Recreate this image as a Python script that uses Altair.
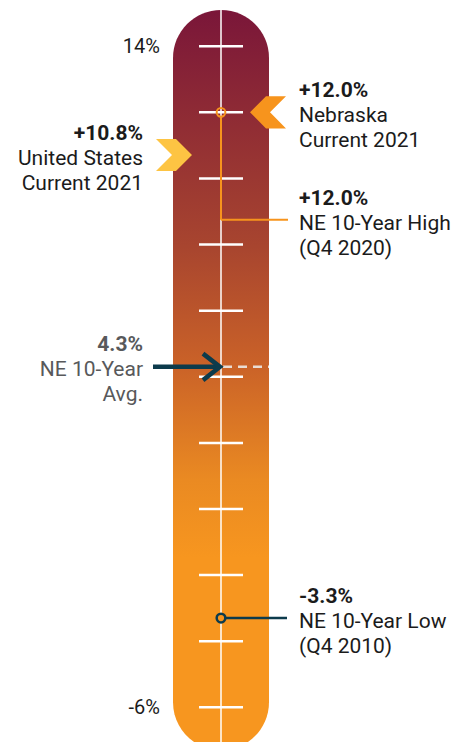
import altair as alt
import pandas as pd

# ---------------- data ----------------
tick_values = [-6, -4, -2, 0, 2, 4, 6, 8, 10, 12, 14]
end_label_values = [14, -6]
end_label_texts = ["14%", "-6%"]

ne_current_value = 12.0
us_current_value = 10.8
ne_high_value = 12.0
ne_avg_value = 4.3
ne_low_value = -3.3

ne_current_lines = ["+12.0%", "Nebraska", "Current 2021"]
us_current_lines = ["+10.8%", "United States", "Current 2021"]
ne_high_lines = ["+12.0%", "NE 10-Year High", "(Q4 2020)"]
ne_avg_lines = ["4.3%", "NE 10-Year", "Avg."]
ne_low_lines = ["-3.3%", "NE 10-Year Low", "(Q4 2010)"]

# ---------------- layout / style ----------------
W, H = 454, 742
Y_DOMAIN = [-7.05, 15.4]
BAR_TOP, BAR_BOTTOM = 15.1, -7.3
HIGH_LABEL_LEVEL = 8.75
FONT = "Roboto"
FS = 21
LINE_DY = [-21, 4, 29]
TEXT = "#1b1b1b"
GRAY = "#58595b"
ORANGE = "#f7941d"
YELLOW = "#fdc443"
NAVY = "#0c3b4c"

yscale = alt.Scale(domain=Y_DOMAIN, nice=False, zero=False)


def Y(field):
    return alt.Y(f"{field}:Q", scale=yscale, axis=None)


def one(value):
    return pd.DataFrame({"v": [value]})


gradient = alt.Gradient(
    gradient="linear",
    stops=[
        alt.GradientStop(color="#7a1639", offset=0),
        alt.GradientStop(color="#a8452f", offset=0.32),
        alt.GradientStop(color="#ca6228", offset=0.48),
        alt.GradientStop(color="#ea8a22", offset=0.635),
        alt.GradientStop(color="#f7961f", offset=0.74),
        alt.GradientStop(color="#f7961f", offset=1),
    ],
    x1=0, x2=0, y1=0, y2=1,
)

bar = alt.Chart(pd.DataFrame({"top": [BAR_TOP], "bottom": [BAR_BOTTOM]})).mark_rect(
    cornerRadius=48, color=gradient
).encode(x=alt.value(173), x2=alt.value(269), y=Y("top"), y2="bottom")

center = alt.Chart(pd.DataFrame({"top": [BAR_TOP], "bottom": [BAR_BOTTOM]})).mark_rule(
    color="white", strokeWidth=1.5
).encode(x=alt.value(221), y=Y("top"), y2="bottom")

ticks = alt.Chart(pd.DataFrame({"v": tick_values})).mark_rule(
    color="white", strokeWidth=2.5
).encode(x=alt.value(199), x2=alt.value(243), y=Y("v"))

end_labels = alt.Chart(pd.DataFrame({"v": end_label_values, "t": end_label_texts})).mark_text(
    align="right", baseline="middle", dy=1, font=FONT, fontSize=20, color=TEXT
).encode(x=alt.value(160), y=Y("v"), text="t:N")

# average: dashed line + arrow
avg_dash = alt.Chart(one(ne_avg_value)).mark_rule(
    color="#e9dcd4", strokeWidth=2.5, strokeDash=[9, 6]
).encode(x=alt.value(223), x2=alt.value(269), y=Y("v"))
avg_shaft = alt.Chart(one(ne_avg_value)).mark_rule(
    color=NAVY, strokeWidth=4.5
).encode(x=alt.value(153), x2=alt.value(218), y=Y("v"))
avg_head = alt.Chart(one(ne_avg_value)).mark_point(
    shape="M-1,-0.78L0,0L-1,0.78", size=1156, filled=False, color=NAVY,
    strokeWidth=4.5, opacity=1
).encode(x=alt.value(220), y=Y("v"))

# 10-year high connector
high_v = alt.Chart(pd.DataFrame({"v": [ne_high_value], "l": [HIGH_LABEL_LEVEL]})).mark_rule(
    color=ORANGE, strokeWidth=2, yOffset=5
).encode(x=alt.value(221), y=Y("v"), y2="l")
high_h = alt.Chart(one(HIGH_LABEL_LEVEL)).mark_rule(
    color=ORANGE, strokeWidth=2
).encode(x=alt.value(221), x2=alt.value(288), y=Y("v"))
high_dot = alt.Chart(one(ne_high_value)).mark_point(
    shape="circle", size=75, filled=False, color=ORANGE, strokeWidth=2, opacity=1
).encode(x=alt.value(221), y=Y("v"))

# 10-year low connector
low_h = alt.Chart(one(ne_low_value)).mark_rule(
    color=NAVY, strokeWidth=2.5
).encode(x=alt.value(225), x2=alt.value(287), y=Y("v"))
low_dot = alt.Chart(one(ne_low_value)).mark_point(
    shape="circle", size=75, filled=True, fill=ORANGE, stroke=NAVY,
    strokeWidth=2.5, opacity=1
).encode(x=alt.value(221), y=Y("v"))

# chevrons
ne_chev = alt.Chart(one(ne_current_value)).mark_point(
    shape="M-1,0L-0.111,-0.889L1,-0.889L0.111,0L1,0.889L-0.111,0.889Z",
    size=1296, filled=True, color=ORANGE, opacity=1, strokeWidth=0
).encode(x=alt.value(268), y=Y("v"))
us_chev = alt.Chart(one(us_current_value)).mark_point(
    shape="M1,0L0.111,-0.889L-1,-0.889L-0.111,0L-1,0.889L0.111,0.889Z",
    size=1296, filled=True, color=YELLOW, opacity=1, strokeWidth=0
).encode(x=alt.value(174), y=Y("v"), yOffset=alt.value(3))


def label_block(value, lines, x, align, color, extra=0):
    layers = []
    for i, (line, dy) in enumerate(zip(lines, LINE_DY)):
        df = pd.DataFrame({"v": [value], "t": [line]})
        layers.append(
            alt.Chart(df).mark_text(
                align=align, baseline="middle", dy=dy + extra, font=FONT, fontSize=FS,
                fontWeight="bold" if i == 0 else "normal", color=color
            ).encode(x=alt.value(x), y=Y("v"), text="t:N")
        )
    return layers


labels = (
    label_block(ne_current_value, ne_current_lines, 299, "left", TEXT)
    + label_block(us_current_value, us_current_lines, 143, "right", TEXT, extra=3)
    + label_block(HIGH_LABEL_LEVEL, ne_high_lines, 299, "left", TEXT)
    + label_block(ne_avg_value, ne_avg_lines, 143, "right", GRAY, extra=-1)
    + label_block(ne_low_value, ne_low_lines, 299, "left", TEXT)
)

chart = alt.layer(
    bar, center, ticks, end_labels,
    avg_dash, avg_shaft, avg_head,
    high_v, high_h, high_dot,
    low_h, low_dot,
    ne_chev, us_chev,
    *labels,
).properties(
    width=W, height=H, autosize=alt.AutoSizeParams(type="none"), padding=0,
    background="white",
).configure_view(stroke=None)

chart.save("out.html", embed_options={"renderer": "svg", "actions": False})
